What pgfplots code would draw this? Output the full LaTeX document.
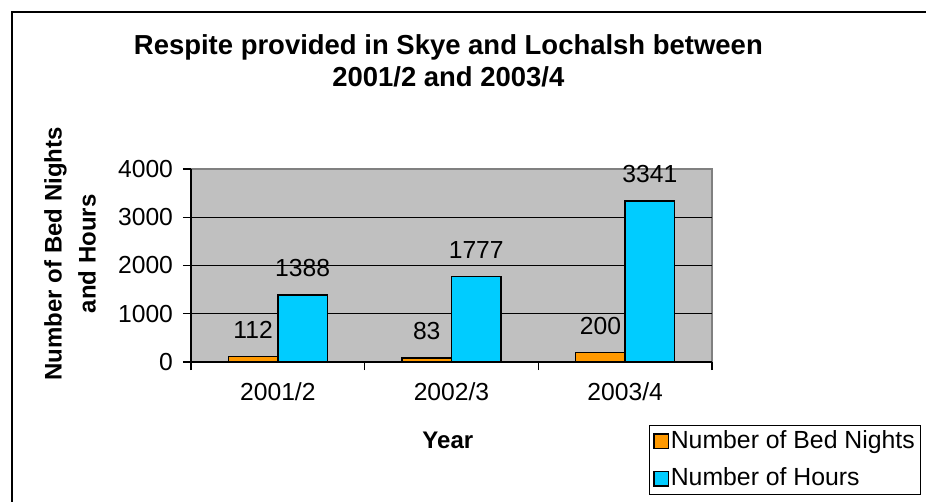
\documentclass[border=0pt]{standalone}
\usepackage{fontspec}
\setmainfont{Liberation Sans}
\usepackage{pgfplots}
\pgfplotsset{compat=1.18}
\definecolor{bedorange}{HTML}{FF9900}
\definecolor{hourcyan}{HTML}{00CCFF}
\definecolor{plotgray}{HTML}{C0C0C0}
\definecolor{bordergray}{HTML}{808080}

\begin{document}
\begin{tikzpicture}
% page = 926 x 502 px, 1px = 0.75pt, origin top-left
\path[use as bounding box] (0,0) rectangle (694.5pt,-376.5pt);
\draw[line width=1.5pt] (9pt,-9pt) rectangle (700pt,-382pt);
\begin{axis}[
    at={(143.25pt,-271.5pt)}, anchor=south west,
    scale only axis,
    width=390.75pt, height=144.75pt,
    ybar=0pt, bar width=0.285,
    xmin=-0.5, xmax=2.5, ymin=0, ymax=4000,
    enlargelimits=false,
    axis background/.style={fill=plotgray, draw=bordergray, line width=1pt},
    axis x line*=bottom, axis y line*=left,
    axis line style={-, black, line width=0.8pt},
    tick align=outside,
    major tick length=6pt,
    tick style={black, line width=0.8pt},
    xtick={0,1,2},
    xticklabels={2001/2,2002/3,2003/4},
    xtick style={draw=none},
    extra x ticks={-0.5,0.5,1.5,2.5},
    extra x tick labels={},
    extra x tick style={xtick style={draw=black, line width=0.8pt}},
    ytick={0,1000,2000,3000,4000},
    extra y ticks={1000,2000,3000},
    extra y tick labels={},
    extra y tick style={grid=major, ytick style={draw=none}},
    grid style={black, line width=0.75pt},
    /pgf/number format/1000 sep={},
    /pgf/number format/assume math mode=true,
    tick label style={font=\fontsize{18.5}{22}\selectfont},
    xticklabel style={yshift=-6pt},
    yticklabel style={xshift=-4pt},
    nodes near coords,
    every node near coord/.append style={font=\fontsize{18.5}{22}\selectfont, black, inner sep=0pt, anchor=south, yshift=13pt},
    title={Respite provided in Skye and Lochalsh between\\2001/2 and 2003/4},
    title style={font=\bfseries\fontsize{20.6}{24}\selectfont, align=center, at={(axis description cs:0.494,1.52)}, anchor=center},
    xlabel={Year},
    xlabel style={font=\bfseries\fontsize{18}{21}\selectfont, at={(axis description cs:0.493,-0.404)}, anchor=center},
    ylabel={Number of Bed Nights\\and Hours},
    ylabel style={font=\bfseries\fontsize{18}{25.5}\selectfont, align=center, at={(axis description cs:-0.232,0.56)}, anchor=center},
    legend style={at={(axis description cs:0.879,-0.69)}, anchor=south west,
        font=\fontsize{18.6}{22}\selectfont, draw=black, line width=0.6pt,
        nodes={inner sep=1pt, text height=13pt, text depth=3pt},
        cells={anchor=west}, row sep=10pt, inner xsep=3pt, inner ysep=3pt},
    legend image code/.code={\draw[#1, draw=black, line width=1.1pt] (0pt,-5.5pt) rectangle (11pt,5.5pt);},
]
\addplot[fill=bedorange, draw=black, line width=1.1pt] coordinates {(0,112) (1,83) (2,200)};
\addplot[fill=hourcyan, draw=black, line width=1.1pt] coordinates {(0,1388) (1,1777) (2,3341)};
\legend{Number of Bed Nights, Number of Hours}
\end{axis}
\end{tikzpicture}
\end{document}
